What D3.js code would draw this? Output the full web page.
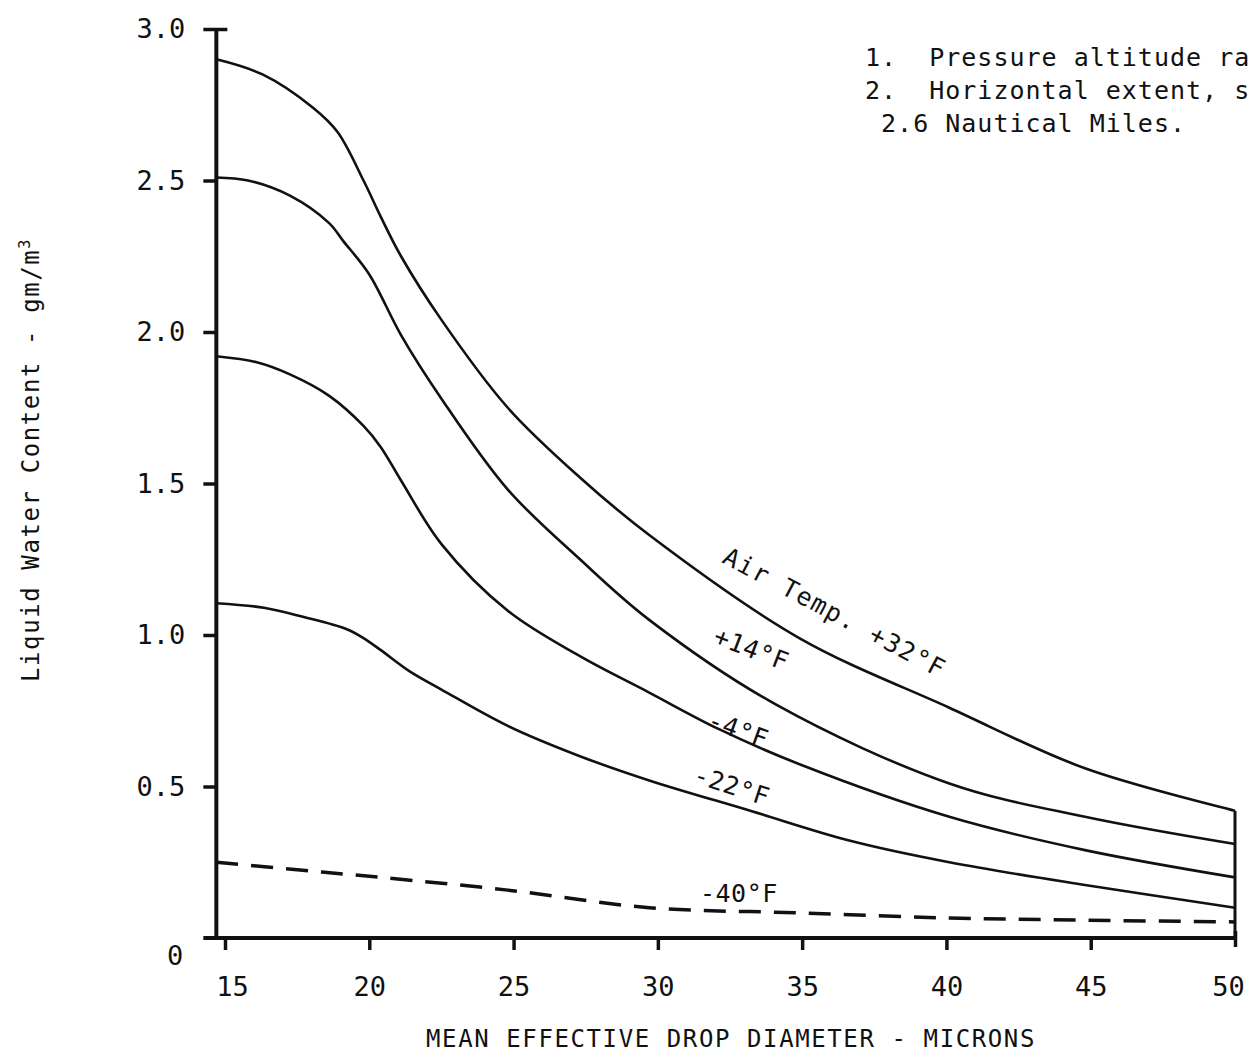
<!DOCTYPE html>
<html>
<head>
<meta charset="utf-8">
<script src="https://cdn.jsdelivr.net/npm/d3@7"></script>
<style>
  body { margin: 0; background: #fff; }
  svg { display: block; }
  text { font-family: "DejaVu Sans Mono", monospace; fill: #111; }
</style>
</head>
<body>
<div id="chart"></div>
<script>

/////////////////////////////////////////////////////////////////////////////
                      ///////    Data    ///////
/////////////////////////////////////////////////////////////////////////////

// mean effective drop diameter (microns) and liquid water content (gm/m3)
var diam_plus32  = [14.7, 16.3, 18.05, 18.9, 19.8, 20.4, 21.1, 22.5, 24.8, 27.3, 29.7, 34.9, 40.1, 44.8, 50];
var lwc_plus32   = [2.90, 2.85, 2.74, 2.66, 2.50, 2.38, 2.25, 2.04, 1.75, 1.52, 1.33, 0.99, 0.76, 0.56, 0.42];

var diam_plus14  = [14.7, 15.8, 17.25, 18.6, 19.1, 20.0, 21.1, 22.5, 24.8, 27.3, 29.7, 34.1, 40.1, 44.8, 50];
var lwc_plus14   = [2.51, 2.50, 2.45, 2.36, 2.30, 2.19, 1.99, 1.78, 1.48, 1.25, 1.05, 0.77, 0.51, 0.40, 0.31];

var diam_minus4  = [14.7, 16.1, 17.25, 18.6, 19.8, 20.4, 21.1, 22.5, 24.8, 27.3, 29.7, 32.1, 35.0, 40.1, 44.8, 50];
var lwc_minus4   = [1.92, 1.90, 1.86, 1.79, 1.69, 1.62, 1.51, 1.30, 1.08, 0.93, 0.81, 0.69, 0.57, 0.40, 0.29, 0.20];

var diam_minus22 = [14.7, 16.35, 17.7, 19.2, 19.8, 20.4, 21.4, 22.5, 24.8, 27.3, 29.7, 33.2, 36.7, 40.1, 44.8, 50];
var lwc_minus22  = [1.105, 1.09, 1.06, 1.02, 0.99, 0.95, 0.88, 0.82, 0.70, 0.60, 0.52, 0.42, 0.32, 0.25, 0.175, 0.10];

var diam_minus40 = [14.7, 17.5, 20.4, 24.8, 29.7, 34.9, 40.1, 44.8, 50];
var lwc_minus40  = [0.25, 0.225, 0.20, 0.158, 0.10, 0.083, 0.066, 0.059, 0.053];

var x_ticks = [15, 20, 25, 30, 35, 40, 45, 50];
var y_ticks = [0, 0.5, 1.0, 1.5, 2.0, 2.5, 3.0];
var y_tick_labels = ['0', '0.5', '1.0', '1.5', '2.0', '2.5', '3.0'];

var curve_labels = ['Air Temp. +32°F', '+14°F', '-4°F', '-22°F', '-40°F'];

var notes = ['1.  Pressure altitude ra', '2.  Horizontal extent, s', ' 2.6 Nautical Miles.'];

/////////////////////////////////////////////////////////////////////////////
                      ///////    Set Up Chart    ///////
/////////////////////////////////////////////////////////////////////////////

var W = 1249, H = 1056;
var y_axis_at = 14.7;   // the vertical axis sits a little left of 15 microns

var svg = d3.select('#chart').append('svg').attr('width', W).attr('height', H);
svg.append('rect').attr('width', W).attr('height', H).attr('fill', '#fff');

var x = d3.scaleLinear().domain([15, 50]).range([225, 1235]);
var y = d3.scaleLinear().domain([0, 3]).range([938, 29]);

var g = svg.append('g');

// x axis
var x_axis = d3.axisBottom(x).tickValues(x_ticks).tickSize(12).tickSizeOuter(0).tickFormat(d3.format('d'));
var gx = g.append('g').attr('transform', `translate(0,${y(0)})`).call(x_axis);
gx.select('.domain').remove();
gx.selectAll('.tick line').attr('stroke', '#111').attr('stroke-width', 3.5);
gx.selectAll('.tick text')
  .attr('font-size', 27).attr('y', 58).attr('dy', 0)
  .attr('dx', d => d === 15 ? 7 : (d === 50 ? -7 : 0));
gx.selectAll('.tick').filter(d => d === 50).select('line').attr('y1', -7).attr('y2', 9);

g.append('line')
  .attr('x1', x(y_axis_at) - 13).attr('x2', x(50))
  .attr('y1', y(0)).attr('y2', y(0))
  .attr('stroke', '#111').attr('stroke-width', 4);

// y axis
var y_axis = d3.axisLeft(y).tickValues(y_ticks.filter(d => d > 0)).tickSize(13).tickSizeOuter(0).tickPadding(18)
  .tickFormat(d => y_tick_labels[y_ticks.indexOf(d)]);
var gy = g.append('g').attr('transform', `translate(${x(y_axis_at)},0)`).call(y_axis);
gy.select('.domain').remove();
gy.selectAll('.tick line').attr('stroke', '#111').attr('stroke-width', 3.5);
gy.selectAll('.tick text').attr('font-size', 27);
gy.selectAll('.tick').filter(d => d === 3).select('line').attr('x1', 11);

gy.append('text')
  .attr('x', -33).attr('y', 27)
  .attr('transform', `translate(0,${y(0)})`)
  .attr('text-anchor', 'end')
  .attr('font-size', 27)
  .text(y_tick_labels[0]);

g.append('line')
  .attr('x1', x(y_axis_at)).attr('x2', x(y_axis_at))
  .attr('y1', y(3)).attr('y2', y(0))
  .attr('stroke', '#111').attr('stroke-width', 4);

// right-hand closing line at 50 microns
g.append('line')
  .attr('x1', x(50)).attr('x2', x(50))
  .attr('y1', y(lwc_plus32[lwc_plus32.length - 1])).attr('y2', y(0))
  .attr('stroke', '#111').attr('stroke-width', 3);

// axis titles
svg.append('text')
  .attr('x', (427 + 1035) / 2).attr('y', 1047)
  .attr('text-anchor', 'middle').attr('font-size', 24).attr('letter-spacing', 1.6)
  .text('MEAN EFFECTIVE DROP DIAMETER - MICRONS');

var ylab = svg.append('text')
  .attr('transform', 'translate(39,460) rotate(-90)')
  .attr('text-anchor', 'middle').attr('font-size', 24).attr('letter-spacing', 1.6);
ylab.append('tspan').text('Liquid Water Content  -  gm/m');
ylab.append('tspan').attr('font-size', 15).attr('dy', -9).text('3');

/////////////////////////////////////////////////////////////////////////////
                      ///////    Curves    ///////
/////////////////////////////////////////////////////////////////////////////

var series = [
  {d: diam_plus32,  v: lwc_plus32,  dashed: false},
  {d: diam_plus14,  v: lwc_plus14,  dashed: false},
  {d: diam_minus4,  v: lwc_minus4,  dashed: false},
  {d: diam_minus22, v: lwc_minus22, dashed: false},
  {d: diam_minus40, v: lwc_minus40, dashed: true}
];

var line = d3.line().x(p => x(p[0])).y(p => y(p[1])).curve(d3.curveCatmullRom.alpha(0.5));

g.selectAll('.curve').data(series).enter()
  .append('path')
  .attr('class', 'curve')
  .attr('d', s => line(d3.zip(s.d, s.v)))
  .attr('fill', 'none')
  .attr('stroke', '#111')
  .attr('stroke-width', s => s.dashed ? 3.5 : 2.6)
  .attr('stroke-dasharray', s => s.dashed ? '22,13' : null);

// curve labels: [x, y, angle]
var label_pos = [[721, 562, 28], [712, 643, 21], [706, 727, 20], [692, 782, 18], [700, 902, 0]];

g.selectAll('.clabel').data(curve_labels).enter()
  .append('text')
  .attr('class', 'clabel')
  .attr('transform', (d, i) => `translate(${label_pos[i][0]},${label_pos[i][1]}) rotate(${label_pos[i][2]})`)
  .attr('font-size', 25).attr('letter-spacing', (d, i) => i === 0 ? 1.5 : 0.5)
  .text(d => d);

// notes, top right
svg.selectAll('.note').data(notes).enter()
  .append('text')
  .attr('class', 'note')
  .attr('x', 865)
  .attr('y', (d, i) => 66 + i * 33)
  .attr('font-size', 25).attr('letter-spacing', 1)
  .attr('xml:space', 'preserve')
  .style('white-space', 'pre')
  .text(d => d);

</script>
</body>
</html>
